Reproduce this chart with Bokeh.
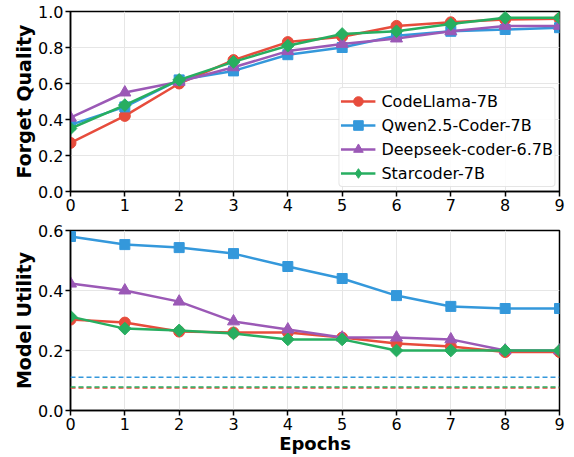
import numpy as np
from bokeh.plotting import figure
from bokeh.layouts import column
from bokeh.models import (FixedTicker, NumeralTickFormatter, Span, Legend, LegendItem,
                          Range1d, ColumnDataSource)
from bokeh.embed import file_html
from bokeh.resources import INLINE

epochs = [0, 1, 2, 3, 4, 5, 6, 7, 8, 9]
models = ["CodeLlama-7B", "Qwen2.5-Coder-7B", "Deepseek-coder-6.7B", "Starcoder-7B"]

fq_codellama = [0.27, 0.42, 0.60, 0.73, 0.83, 0.86, 0.92, 0.94, 0.955, 0.96]
fq_qwen = [0.37, 0.47, 0.62, 0.67, 0.76, 0.80, 0.865, 0.89, 0.90, 0.91]
fq_deepseek = [0.41, 0.55, 0.61, 0.69, 0.78, 0.82, 0.85, 0.89, 0.92, 0.92]
fq_starcoder = [0.35, 0.48, 0.62, 0.72, 0.81, 0.875, 0.89, 0.93, 0.965, 0.965]

mu_codellama = [0.303, 0.293, 0.263, 0.26, 0.26, 0.243, 0.223, 0.213, 0.195, 0.195]
mu_qwen = [0.58, 0.553, 0.543, 0.523, 0.48, 0.44, 0.383, 0.347, 0.34, 0.34]
mu_deepseek = [0.423, 0.40, 0.363, 0.297, 0.27, 0.243, 0.243, 0.237, 0.20, 0.20]
mu_starcoder = [0.313, 0.273, 0.267, 0.257, 0.237, 0.237, 0.20, 0.20, 0.20, 0.20]

# dashed baseline utility levels (drawn in this order)
baseline_models = ["CodeLlama-7B", "Qwen2.5-Coder-7B", "Starcoder-7B"]
baseline_values = [0.075, 0.111, 0.078]

fq_ticks = [0.0, 0.2, 0.4, 0.6, 0.8, 1.0]
mu_ticks = [0.0, 0.2, 0.4, 0.6]

colors = {"CodeLlama-7B": "#e74c3c", "Qwen2.5-Coder-7B": "#3498db",
          "Deepseek-coder-6.7B": "#9b59b6", "Starcoder-7B": "#27ae60"}
# marker, size, angle, legend marker, legend size
markers = {"CodeLlama-7B": ("circle", 11, 0.0, "circle", 11),
           "Qwen2.5-Coder-7B": ("square", 10, 0.0, "square", 10),
           "Deepseek-coder-6.7B": ("triangle", 12, 0.0, "triangle", 12),
           "Starcoder-7B": ("square", 9, np.pi / 4, "diamond", 15)}

FONT = "DejaVu Sans"
W = 574


def style(p, yticks, ylabel, xlabel=None):
    p.x_range = Range1d(0, 9)
    p.xaxis.ticker = FixedTicker(ticks=epochs)
    p.yaxis.ticker = FixedTicker(ticks=yticks)
    p.yaxis.formatter = NumeralTickFormatter(format="0.0")
    p.xgrid.ticker = FixedTicker(ticks=epochs)
    p.ygrid.ticker = FixedTicker(ticks=yticks)
    for g in (p.xgrid, p.ygrid):
        g.grid_line_color = "#e6e6e6"
        g.grid_line_width = 1
    for ax in (p.xaxis, p.yaxis):
        ax.axis_line_color = "black"
        ax.axis_line_width = 1.5
        ax.major_tick_line_color = "black"
        ax.major_tick_line_width = 1.5
        ax.major_tick_out = 5
        ax.major_tick_in = 0
        ax.minor_tick_line_color = None
        ax.major_label_text_font = FONT
        ax.major_label_text_font_size = "16px"
        ax.major_label_text_color = "black"
        ax.major_label_standoff = 2
        ax.axis_label_text_font = FONT
        ax.axis_label_text_font_style = "bold"
        ax.axis_label_text_color = "black"
    p.yaxis.axis_label = ylabel
    p.yaxis.axis_label_standoff = 0
    p.yaxis.axis_label_text_font_size = "19px"
    if xlabel:
        p.xaxis.axis_label = xlabel
        p.xaxis.axis_label_standoff = 0
        p.xaxis.axis_label_text_font_size = "18px"
    p.outline_line_color = "black"
    p.outline_line_width = 1.5
    p.background_fill_color = "white"
    p.border_fill_color = "white"


top = figure(width=W, height=219, output_backend="svg", toolbar_location=None,
             min_border_left=70, min_border_right=15, min_border_top=11, min_border_bottom=28,
             y_range=Range1d(0, 1.0))
style(top, fq_ticks, "Forget Quality")

bot = figure(width=W, height=238, output_backend="svg", toolbar_location=None,
             min_border_left=70, min_border_right=15, min_border_top=11, min_border_bottom=47,
             y_range=Range1d(0, 0.6))
style(bot, mu_ticks, "Model Utility", "Epochs")

fq = {"CodeLlama-7B": fq_codellama, "Qwen2.5-Coder-7B": fq_qwen,
      "Deepseek-coder-6.7B": fq_deepseek, "Starcoder-7B": fq_starcoder}
mu = {"CodeLlama-7B": mu_codellama, "Qwen2.5-Coder-7B": mu_qwen,
      "Deepseek-coder-6.7B": mu_deepseek, "Starcoder-7B": mu_starcoder}

for name, val in zip(baseline_models, baseline_values):
    bot.add_layout(Span(location=val, dimension="width", line_color=colors[name],
                        line_width=1.5, line_dash="5 3"))

items = []
for name in models:
    c = colors[name]
    mk, sz, ang, lmk, lsz = markers[name]
    l1 = top.line(epochs, fq[name], line_color=c, line_width=2.5)
    top.scatter(epochs, fq[name], marker=mk, size=sz, angle=ang,
                fill_color=c, line_color=c)
    # legend-only proxy (no visible point: NaN position)
    proxy = top.scatter(x="x", y="y", source=ColumnDataSource(dict(x=[np.nan], y=[np.nan])),
                        marker=lmk, size=lsz, fill_color=c, line_color=c)
    items.append(LegendItem(label=name, renderers=[l1, proxy]))
    bot.line(epochs, mu[name], line_color=c, line_width=2.5)
    bot.scatter(epochs, mu[name], marker=mk, size=sz, angle=ang,
                fill_color=c, line_color=c)

legend = Legend(items=items, location="bottom_right")
legend.label_text_font = FONT
legend.label_text_font_size = "16px"
legend.label_text_color = "black"
legend.glyph_width = 35
legend.glyph_height = 24
legend.label_height = 24
legend.label_standoff = 6
legend.spacing = 0
legend.padding = 1
legend.margin = 4
legend.border_line_color = "#cccccc"
legend.border_line_width = 1
legend.border_radius = 4
legend.background_fill_alpha = 0.85
top.add_layout(legend)

layout = column(top, bot, spacing=0)
open("out.html", "w").write(file_html(layout, INLINE))
